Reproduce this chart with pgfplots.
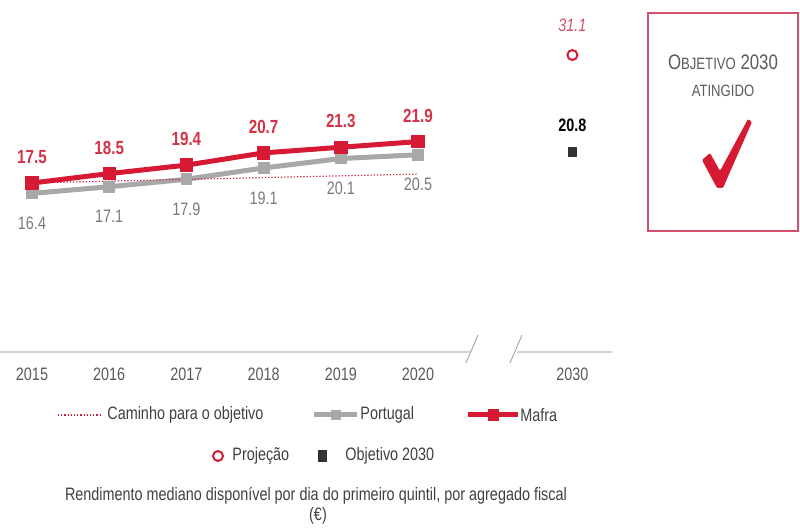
\documentclass[border=0pt]{standalone}
\usepackage{pgfplots}
\pgfplotsset{compat=1.18}
\usepackage{fontspec}
\setmainfont{Liberation Sans}[FakeStretch=0.8]
\definecolor{mred}{HTML}{D61A34}
\definecolor{lred}{HTML}{D43246}
\definecolor{pred}{HTML}{D6506A}
\definecolor{pgray}{HTML}{A8A8A8}
\definecolor{plab}{HTML}{7A7A7A}
\definecolor{ygray}{HTML}{5A5A5A}
\definecolor{agray}{HTML}{D4D4D4}
\definecolor{dk}{HTML}{333333}
\definecolor{txt}{HTML}{404040}
\definecolor{boxred}{HTML}{D2506A}
\pgfplotstableread{
x y label
0 16.4 16.4
1 17.1 17.1
2 17.9 17.9
3 19.1 19.1
4 20.1 20.1
5 20.5 20.5
}\portugal
\pgfplotstableread{
x y label
0 17.5 17.5
1 18.5 18.5
2 19.4 19.4
3 20.7 20.7
4 21.3 21.3
5 21.9 21.9
}\mafra
\begin{document}
\fontsize{9}{11}\selectfont
\begin{tikzpicture}
\useasboundingbox (0,0) rectangle (400pt,264pt);
\begin{axis}[at={(0,0)}, anchor=south west, scale only axis,
  width=400pt, height=264pt,
  xmin=-0.4145, xmax=9.948, ymin=-19.16, ymax=36.95,
  hide axis, clip=false]
% Portugal
\addplot[pgray, line width=2.5pt, mark=square*, mark size=2.7pt,
  mark options={fill=pgray, draw=pgray, line width=0pt},
  nodes near coords, point meta=explicit symbolic,
  every node near coord/.style={anchor=center, yshift=-15pt, text=plab, font=\fontsize{9}{10}\selectfont}]
  table[x=x, y=y, meta=label] {\portugal};
% Caminho para o objetivo
\addplot[mred, densely dotted, line width=0.6pt] coordinates {(0.2,17.55) (5,18.45)};
% Mafra
\addplot[mred, line width=2.5pt, mark=square*, mark size=3.1pt,
  mark options={fill=mred, draw=mred, line width=0pt},
  nodes near coords, point meta=explicit symbolic,
  every node near coord/.style={anchor=center, yshift=13pt, text=lred, font=\fontsize{9.5}{10}\selectfont\bfseries}]
  table[x=x, y=y, meta=label] {\mafra};
% Projecao
\addplot[only marks, mark=o, mark size=2.5pt, mark options={draw=mred, line width=1pt},
  nodes near coords, point meta=explicit symbolic,
  every node near coord/.style={anchor=center, yshift=15pt, text=pred, font=\fontsize{9}{10}\selectfont\itshape}]
  coordinates {(7,31.1) [31.1]};
% Objetivo 2030
\addplot[only marks, mark=square*, mark size=2.1pt, mark options={fill=dk, draw=dk},
  nodes near coords, point meta=explicit symbolic,
  every node near coord/.style={anchor=center, yshift=13.5pt, text=black, font=\fontsize{9}{10}\selectfont\bfseries}]
  coordinates {(7,20.8) [20.8]};
\end{axis}
\begin{scope}[x=0.5pt, y=-0.5pt, shift={(0pt,264pt)}]
% axis line with break
\draw[agray, line width=1pt] (0,352) -- (471,352);
\draw[agray, line width=1pt] (517,352) -- (612,352);
\draw[agray!80!black, line width=0.5pt] (466,363) -- (478,335);
\draw[agray!80!black, line width=0.5pt] (510,363) -- (522,335);
% years
\foreach \px/\yr in {32/2015, 109.2/2016, 186.4/2017, 263.6/2018, 340.8/2019, 418/2020, 572.4/2030}
  \node[text=ygray, anchor=center] at (\px,374) {\yr};
% box
\draw[boxred, line width=1pt] (648,13) rectangle (798,231);
\node[text=ygray] at (723,62) {\fontsize{10.5}{12}\selectfont O\fontsize{8.2}{10}\selectfont BJETIVO\fontsize{10.5}{12}\selectfont\ 2030};
\node[text=ygray] at (723,91) {\fontsize{8.2}{10}\selectfont ATINGIDO};
\fill[mred, rounded corners=0.6pt] (702,160) -- (710,153) -- (720,171) -- (748,119) -- (752,122) -- (723,188) -- (717,188) -- cycle;
% legend row 1
\draw[mred, densely dotted, line width=0.6pt] (58,415) -- (102,415);
\node[anchor=west, text=txt, inner sep=0pt] at (107,415) {Caminho para o objetivo};
\draw[pgray, line width=2.5pt] (314,415) -- (357,415);
\fill[pgray] (331,410) rectangle (341,420);
\node[anchor=west, text=txt, inner sep=0pt] at (360,415) {Portugal};
\draw[mred, line width=2.5pt] (468,415) -- (518,415);
\fill[mred] (488,409) rectangle (499,421);
\node[anchor=west, text=txt, inner sep=0pt] at (520,415) {Mafra};
% legend row 2
\draw[mred, line width=1pt] (218,456) circle (5);
\node[anchor=west, text=txt, inner sep=0pt] at (232,456) {Projeção};
\fill[dk] (318,450) rectangle (327,462);
\node[anchor=west, text=txt, inner sep=0pt] at (345,456) {Objetivo 2030};
% caption
\node[text=txt] at (316,496) {Rendimento mediano disponível por dia do primeiro quintil, por agregado fiscal};
\node[text=txt] at (318,516) {(€)};
\end{scope}
\end{tikzpicture}
\end{document}
